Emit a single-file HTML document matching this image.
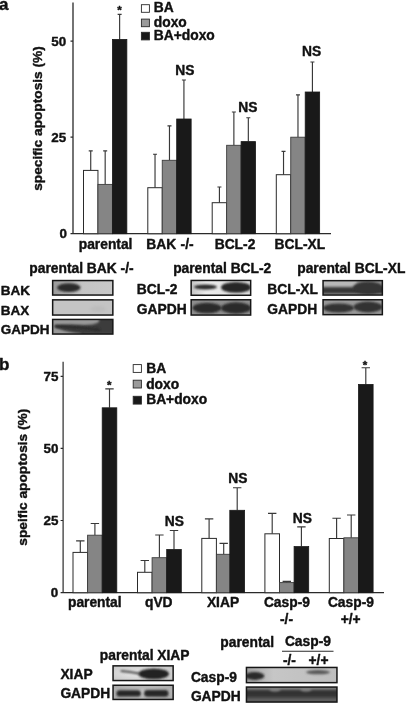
<!DOCTYPE html><html><head><meta charset="utf-8"><title>figure</title>
<style>html,body{margin:0;padding:0;background:#fff}svg{display:block}text{font-family:"Liberation Sans",Arial,sans-serif;font-weight:bold;fill:#111;stroke:#111;stroke-width:0.4px;stroke-linejoin:round}</style></head><body>
<svg width="406" height="704" viewBox="0 0 406 704">
<defs><filter id="b1" x="-30%" y="-80%" width="160%" height="260%"><feGaussianBlur stdDeviation="1.1"/></filter><filter id="b2" x="-30%" y="-80%" width="160%" height="260%"><feGaussianBlur stdDeviation="1.8"/></filter><filter id="b05" x="-30%" y="-80%" width="160%" height="260%"><feGaussianBlur stdDeviation="0.6"/></filter><filter id="b08" x="-30%" y="-80%" width="160%" height="260%"><feGaussianBlur stdDeviation="0.85"/></filter></defs>
<rect width="406" height="704" fill="#fff"/>
<text x="-0.9" y="9.9" font-size="17" text-anchor="start" >a</text>
<path d="M73.0 2.5V233.7M70.5 233.7H331M70.5 41.2H73.0M70.5 137.2H73.0" stroke="#2a2a2a" stroke-width="1.3" fill="none"/>
<text x="66.2" y="45.9" font-size="13.4" text-anchor="end" >50</text>
<text x="66.2" y="142.0" font-size="13.4" text-anchor="end" >25</text>
<text x="67.0" y="238.3" font-size="13.4" text-anchor="end" >0</text>
<text x="0" y="0" font-size="13.7" text-anchor="middle" transform="translate(42.1 118.5) rotate(-90)">specific apoptosis (%)</text>
<rect x="141.4" y="4.7" width="8.0" height="7.6" fill="#fff" stroke="#2a2a2a" stroke-width="0.9"/>
<rect x="141.4" y="19.1" width="8.0" height="7.6" fill="#9a9a9a" stroke="#2a2a2a" stroke-width="0.9"/>
<rect x="141.4" y="32.3" width="8.0" height="7.6" fill="#191919" stroke="#2a2a2a" stroke-width="0.9"/>
<text x="153.8" y="12.0" font-size="13.8" text-anchor="start" >BA</text>
<text x="153.8" y="27.3" font-size="13.8" text-anchor="start" >doxo</text>
<text x="153.8" y="39.9" font-size="13.8" text-anchor="start" >BA+doxo</text>
<path d="M90.725 170.4V150.8M88.725 150.8H92.725" stroke="#383838" stroke-width="1.15" fill="none"/>
<path d="M105.175 184.4V150.8M103.175 150.8H107.175" stroke="#383838" stroke-width="1.15" fill="none"/>
<path d="M119.625 39.4V14.3M117.625 14.3H121.625" stroke="#383838" stroke-width="1.15" fill="none"/>
<rect x="83.5" y="170.4" width="14.45" height="63.30" fill="#fff" stroke="#2a2a2a" stroke-width="1"/>
<rect x="97.95" y="184.4" width="14.45" height="49.30" fill="#858585" stroke="#3c3c3c" stroke-width="0.9"/>
<rect x="112.4" y="39.4" width="14.45" height="194.30" fill="#191919" stroke="#191919" stroke-width="0.8"/>
<path d="M155.025 187.7V154.2M153.025 154.2H157.025" stroke="#383838" stroke-width="1.15" fill="none"/>
<path d="M169.475 160.3V125.9M167.475 125.9H171.475" stroke="#383838" stroke-width="1.15" fill="none"/>
<path d="M183.925 119V80M181.925 80H185.925" stroke="#383838" stroke-width="1.15" fill="none"/>
<rect x="147.8" y="187.7" width="14.45" height="46.00" fill="#fff" stroke="#2a2a2a" stroke-width="1"/>
<rect x="162.25" y="160.3" width="14.45" height="73.40" fill="#858585" stroke="#3c3c3c" stroke-width="0.9"/>
<rect x="176.7" y="119" width="14.45" height="114.70" fill="#191919" stroke="#191919" stroke-width="0.8"/>
<path d="M219.42499999999998 202.7V187M217.42499999999998 187H221.42499999999998" stroke="#383838" stroke-width="1.15" fill="none"/>
<path d="M233.87499999999997 145.3V112M231.87499999999997 112H235.87499999999997" stroke="#383838" stroke-width="1.15" fill="none"/>
<path d="M248.325 141.6V117.7M246.325 117.7H250.325" stroke="#383838" stroke-width="1.15" fill="none"/>
<rect x="212.2" y="202.7" width="14.45" height="31.00" fill="#fff" stroke="#2a2a2a" stroke-width="1"/>
<rect x="226.65" y="145.3" width="14.45" height="88.40" fill="#858585" stroke="#3c3c3c" stroke-width="0.9"/>
<rect x="241.1" y="141.6" width="14.45" height="92.10" fill="#191919" stroke="#191919" stroke-width="0.8"/>
<path d="M283.52500000000003 174.7V151.3M281.52500000000003 151.3H285.52500000000003" stroke="#383838" stroke-width="1.15" fill="none"/>
<path d="M297.975 137.2V94.8M295.975 94.8H299.975" stroke="#383838" stroke-width="1.15" fill="none"/>
<path d="M312.425 92V62M310.425 62H314.425" stroke="#383838" stroke-width="1.15" fill="none"/>
<rect x="276.3" y="174.7" width="14.45" height="59.00" fill="#fff" stroke="#2a2a2a" stroke-width="1"/>
<rect x="290.75" y="137.2" width="14.45" height="96.50" fill="#858585" stroke="#3c3c3c" stroke-width="0.9"/>
<rect x="305.2" y="92" width="14.45" height="141.70" fill="#191919" stroke="#191919" stroke-width="0.8"/>
<text x="119.6" y="14.4" font-size="11.5" text-anchor="middle" stroke-width="0.1">*</text>
<text x="184.8" y="74.7" font-size="13.8" text-anchor="middle" >NS</text>
<text x="247.9" y="112.3" font-size="13.8" text-anchor="middle" >NS</text>
<text x="311.7" y="56" font-size="13.8" text-anchor="middle" >NS</text>
<text x="105.6" y="249.3" font-size="13.8" text-anchor="middle" >parental</text>
<text x="170.0" y="249.0" font-size="13.8" text-anchor="middle" >BAK <tspan dx="0.5">-/-</tspan></text>
<text x="235" y="248.8" font-size="13.8" text-anchor="middle" >BCL-2</text>
<text x="299.9" y="248.8" font-size="13.8" text-anchor="middle" >BCL-XL</text>
<text x="81.5" y="272.8" font-size="13.8" text-anchor="middle" >parental BAK -/-</text>
<text x="222.2" y="272.9" font-size="13.8" text-anchor="middle" >parental BCL-2</text>
<text x="351.3" y="272.9" font-size="13.8" text-anchor="middle" >parental BCL-XL</text>
<text x="0.8" y="295" font-size="13.5" text-anchor="start" >BAK</text>
<text x="0.8" y="314.6" font-size="13.5" text-anchor="start" >BAX</text>
<text x="0.8" y="333.7" font-size="13.5" text-anchor="start" >GAPDH</text>
<text x="136.8" y="293.7" font-size="13.8" text-anchor="start" >BCL-2</text>
<text x="136.8" y="313.7" font-size="13.8" text-anchor="start" >GAPDH</text>
<text x="267.3" y="294.3" font-size="13.8" text-anchor="start" >BCL-XL</text>
<text x="267.3" y="314.4" font-size="13.8" text-anchor="start" >GAPDH</text>
<linearGradient id="gA1" x1="0" x2="1" y1="0" y2="0"><stop offset="0" stop-color="#9a9a9a"/><stop offset="0.5" stop-color="#c4c4c4"/><stop offset="1" stop-color="#c8c8c8"/></linearGradient>
<clipPath id="cA1"><rect x="52.65" y="280.55" width="60.20" height="14.50"/></clipPath>
<rect x="52.65" y="280.55" width="60.20" height="14.50" fill="url(#gA1)"/>
<g clip-path="url(#cA1)"><ellipse cx="68.8" cy="287.6" rx="11.8" ry="4.3" fill="#2c2c2c" filter="url(#b1)"/></g>
<rect x="52.65" y="280.55" width="60.20" height="14.50" fill="none" stroke="#161616" stroke-width="1.5"/>
<clipPath id="cA2"><rect x="52.65" y="299.85" width="60.20" height="15.20"/></clipPath>
<rect x="52.65" y="299.85" width="60.20" height="15.20" fill="#c4c4c4"/>
<g clip-path="url(#cA2)"><ellipse cx="98" cy="309" rx="8" ry="3" fill="#bcbcbc" filter="url(#b2)"/></g>
<rect x="52.65" y="299.85" width="60.20" height="15.20" fill="none" stroke="#161616" stroke-width="1.5"/>
<clipPath id="cA3"><rect x="52.65" y="319.45" width="60.20" height="14.60"/></clipPath>
<rect x="52.65" y="319.45" width="60.20" height="14.60" fill="#3c3c3c"/>
<g clip-path="url(#cA3)"><path d="M50 317H100L98.5 322.4Q93 325 84.2 324.9Q70 324 56 325L54 326.3L56 327.8Q60 329.4 64.5 330.8Q72 332.6 81 333.7L84 337H50Z" fill="#989898" filter="url(#b08)"/><path d="M55 326.3Q75 327 100 330" stroke="#2c2c2c" stroke-width="2.4" fill="none" filter="url(#b1)"/><rect x="84" y="333.4" width="30" height="2" fill="#565656" filter="url(#b08)"/></g>
<rect x="52.65" y="319.45" width="60.20" height="14.60" fill="none" stroke="#161616" stroke-width="1.5"/>
<linearGradient id="gB1" x1="0" x2="1" y1="0" y2="0"><stop offset="0" stop-color="#c4c4c4"/><stop offset="0.25" stop-color="#ececec"/><stop offset="1" stop-color="#dcdcdc"/></linearGradient>
<clipPath id="cB1"><rect x="191.15" y="280.45" width="59.50" height="14.80"/></clipPath>
<rect x="191.15" y="280.45" width="59.50" height="14.80" fill="url(#gB1)"/>
<g clip-path="url(#cB1)"><ellipse cx="205.5" cy="286.9" rx="11.5" ry="2.5" fill="#2a2a2a" filter="url(#b08)"/><ellipse cx="236" cy="287.4" rx="15" ry="5.4" fill="#262626" filter="url(#b08)"/></g>
<rect x="191.15" y="280.45" width="59.50" height="14.80" fill="none" stroke="#161616" stroke-width="1.5"/>
<clipPath id="cB2"><rect x="191.15" y="299.75" width="59.50" height="15.30"/></clipPath>
<rect x="191.15" y="299.75" width="59.50" height="15.30" fill="#8e8e8e"/>
<g clip-path="url(#cB2)"><ellipse cx="207" cy="308" rx="14.5" ry="5.2" fill="#2a2a2a" filter="url(#b1)"/><ellipse cx="236" cy="308" rx="15" ry="5.8" fill="#2a2a2a" filter="url(#b1)"/></g>
<rect x="191.15" y="299.75" width="59.50" height="15.30" fill="none" stroke="#161616" stroke-width="1.5"/>
<clipPath id="cC1"><rect x="323.05" y="280.65" width="59.30" height="14.40"/></clipPath>
<rect x="323.05" y="280.65" width="59.30" height="14.40" fill="#949494"/>
<g clip-path="url(#cC1)"><rect x="320" y="279" width="37" height="7.6" fill="#b8b8b8" filter="url(#b08)"/><rect x="318" y="287.4" width="70" height="6.0" fill="#363636" filter="url(#b08)"/><ellipse cx="368" cy="287.8" rx="15" ry="6.4" fill="#343434" filter="url(#b1)"/></g>
<rect x="323.05" y="280.65" width="59.30" height="14.40" fill="none" stroke="#161616" stroke-width="1.5"/>
<clipPath id="cC2"><rect x="323.05" y="299.75" width="59.30" height="14.90"/></clipPath>
<rect x="323.05" y="299.75" width="59.30" height="14.90" fill="#989898"/>
<g clip-path="url(#cC2)"><ellipse cx="338.5" cy="308" rx="15.5" ry="4.6" fill="#303030" filter="url(#b1)"/><ellipse cx="368" cy="307" rx="14.5" ry="5.4" fill="#303030" filter="url(#b1)"/></g>
<rect x="323.05" y="299.75" width="59.30" height="14.90" fill="none" stroke="#161616" stroke-width="1.5"/>
<text x="-0.9" y="369.5" font-size="17" text-anchor="start" >b</text>
<path d="M63.1 361.7V592.7M60.6 592.7H384M60.6 376.3H63.1M60.6 448.4H63.1M60.6 520.5H63.1" stroke="#2a2a2a" stroke-width="1.2" fill="none"/>
<text x="58.5" y="381.1" font-size="13.4" text-anchor="end" >75</text>
<text x="58.5" y="453.2" font-size="13.4" text-anchor="end" >50</text>
<text x="58.5" y="525.3" font-size="13.4" text-anchor="end" >25</text>
<text x="58.2" y="597" font-size="13.4" text-anchor="end" >0</text>
<text x="0" y="0" font-size="13.7" text-anchor="middle" transform="translate(26.9 477.2) rotate(-90)">speific apoptosis (%)</text>
<rect x="133.2" y="364.6" width="8.2" height="7.8" fill="#fff" stroke="#2a2a2a" stroke-width="0.9"/>
<rect x="133.2" y="380.2" width="8.2" height="7.8" fill="#9a9a9a" stroke="#2a2a2a" stroke-width="0.9"/>
<rect x="133.2" y="396.3" width="8.2" height="7.8" fill="#191919" stroke="#2a2a2a" stroke-width="0.9"/>
<text x="146.2" y="372.8" font-size="13.8" text-anchor="start" >BA</text>
<text x="146.2" y="389.2" font-size="13.8" text-anchor="start" >doxo</text>
<text x="146.2" y="404.2" font-size="13.8" text-anchor="start" >BA+doxo</text>
<path d="M80.3 552.4V540.8M76.1 540.8H84.5" stroke="#383838" stroke-width="1.15" fill="none"/>
<path d="M94.89999999999999 535.2V523.5M90.69999999999999 523.5H99.1" stroke="#383838" stroke-width="1.15" fill="none"/>
<path d="M109.5 407.8V388.8M105.3 388.8H113.7" stroke="#383838" stroke-width="1.15" fill="none"/>
<rect x="73.0" y="552.4" width="14.60" height="40.30" fill="#fff" stroke="#2a2a2a" stroke-width="1"/>
<rect x="87.6" y="535.2" width="14.60" height="57.50" fill="#858585" stroke="#3c3c3c" stroke-width="0.9"/>
<rect x="102.2" y="407.8" width="14.60" height="184.90" fill="#191919" stroke="#191919" stroke-width="0.8"/>
<path d="M144.8 572.3V560.5M140.60000000000002 560.5H149.0" stroke="#383838" stroke-width="1.15" fill="none"/>
<path d="M159.4 557.7V535M155.20000000000002 535H163.6" stroke="#383838" stroke-width="1.15" fill="none"/>
<path d="M174.0 549.5V530.5M169.8 530.5H178.2" stroke="#383838" stroke-width="1.15" fill="none"/>
<rect x="137.5" y="572.3" width="14.60" height="20.40" fill="#fff" stroke="#2a2a2a" stroke-width="1"/>
<rect x="152.1" y="557.7" width="14.60" height="35.00" fill="#858585" stroke="#3c3c3c" stroke-width="0.9"/>
<rect x="166.7" y="549.5" width="14.60" height="43.20" fill="#191919" stroke="#191919" stroke-width="0.8"/>
<path d="M209.10000000000002 538.4V518.8M204.90000000000003 518.8H213.3" stroke="#383838" stroke-width="1.15" fill="none"/>
<path d="M223.70000000000002 554.3V543.3M219.50000000000003 543.3H227.9" stroke="#383838" stroke-width="1.15" fill="none"/>
<path d="M237.20000000000002 510.3V487.7M233.00000000000003 487.7H241.4" stroke="#383838" stroke-width="1.15" fill="none"/>
<rect x="201.8" y="538.4" width="14.60" height="54.30" fill="#fff" stroke="#2a2a2a" stroke-width="1"/>
<rect x="216.4" y="554.3" width="14.60" height="38.40" fill="#858585" stroke="#3c3c3c" stroke-width="0.9"/>
<rect x="229.8" y="510.3" width="14.80" height="82.40" fill="#191919" stroke="#191919" stroke-width="0.8"/>
<path d="M272.2 533.8V513.4M268.0 513.4H276.4" stroke="#383838" stroke-width="1.15" fill="none"/>
<path d="M286.8 582.6V581.4M282.6 581.4H291.0" stroke="#383838" stroke-width="1.15" fill="none"/>
<path d="M301.4 546.6V526.8M297.2 526.8H305.59999999999997" stroke="#383838" stroke-width="1.15" fill="none"/>
<rect x="264.9" y="533.8" width="14.60" height="58.90" fill="#fff" stroke="#2a2a2a" stroke-width="1"/>
<rect x="279.5" y="582.6" width="14.60" height="10.10" fill="#858585" stroke="#3c3c3c" stroke-width="0.9"/>
<rect x="294.1" y="546.6" width="14.60" height="46.10" fill="#191919" stroke="#191919" stroke-width="0.8"/>
<path d="M336.6 538.5V518.2M332.40000000000003 518.2H340.8" stroke="#383838" stroke-width="1.15" fill="none"/>
<path d="M351.20000000000005 537.8V515M347.00000000000006 515H355.40000000000003" stroke="#383838" stroke-width="1.15" fill="none"/>
<path d="M365.8 384.4V367.7M361.6 367.7H370.0" stroke="#383838" stroke-width="1.15" fill="none"/>
<rect x="329.3" y="538.5" width="14.60" height="54.20" fill="#fff" stroke="#2a2a2a" stroke-width="1"/>
<rect x="343.9" y="537.8" width="14.60" height="54.90" fill="#858585" stroke="#3c3c3c" stroke-width="0.9"/>
<rect x="358.5" y="384.4" width="14.60" height="208.30" fill="#191919" stroke="#191919" stroke-width="0.8"/>
<text x="109.3" y="389.0" font-size="11.5" text-anchor="middle" stroke-width="0.1">*</text>
<text x="364.9" y="368.9" font-size="11.5" text-anchor="middle" stroke-width="0.1">*</text>
<text x="174.3" y="526.4" font-size="13.8" text-anchor="middle" >NS</text>
<text x="237.9" y="483.4" font-size="13.8" text-anchor="middle" >NS</text>
<text x="302.4" y="522.7" font-size="13.8" text-anchor="middle" >NS</text>
<text x="94.8" y="607.3" font-size="13.8" text-anchor="middle" >parental</text>
<text x="158.8" y="606.9" font-size="13.8" text-anchor="middle" >qVD</text>
<text x="223" y="606.9" font-size="13.8" text-anchor="middle" >XIAP</text>
<text x="286.9" y="606.7" font-size="13.8" text-anchor="middle" >Casp-9</text>
<text x="286.5" y="624.0" font-size="13.8" text-anchor="middle" >-/-</text>
<text x="350.9" y="606.7" font-size="13.8" text-anchor="middle" >Casp-9</text>
<text x="350.7" y="624.2" font-size="13.8" text-anchor="middle" >+/+</text>
<text x="144.7" y="660" font-size="13.8" text-anchor="middle" >parental XIAP</text>
<text x="60.4" y="679.0" font-size="13.8" text-anchor="start" >XIAP</text>
<text x="60.4" y="697.7" font-size="13.8" text-anchor="start" >GAPDH</text>
<text x="247.2" y="646.6" font-size="13.8" text-anchor="middle" >parental</text>
<text x="307.9" y="646" font-size="13.8" text-anchor="middle" >Casp-9</text>
<path d="M282 651.2H333.5" stroke="#2a2a2a" stroke-width="1.1"/>
<text x="289.4" y="665" font-size="13.8" text-anchor="middle" >-/-</text>
<text x="318.5" y="665" font-size="13.8" text-anchor="middle" >+/+</text>
<text x="190.9" y="681.5" font-size="13.8" text-anchor="start" >Casp-9</text>
<text x="190.9" y="701.3" font-size="13.8" text-anchor="start" >GAPDH</text>
<radialGradient id="gD1" cx="0.45" cy="0.5" r="0.7"><stop offset="0" stop-color="#ececec"/><stop offset="1" stop-color="#c4c4c4"/></radialGradient>
<clipPath id="cD1"><rect x="113.05" y="665.85" width="60.10" height="14.70"/></clipPath>
<rect x="113.05" y="665.85" width="60.10" height="14.70" fill="url(#gD1)"/>
<g clip-path="url(#cD1)"><path d="M121.5 671Q130 671.8 139 673.6" stroke="#4a4a4a" stroke-width="2" stroke-linecap="round" fill="none" filter="url(#b08)"/><ellipse cx="153.7" cy="673.9" rx="15.3" ry="5.4" fill="#242424" filter="url(#b08)"/></g>
<rect x="113.05" y="665.85" width="60.10" height="14.70" fill="none" stroke="#161616" stroke-width="1.5"/>
<radialGradient id="gD2" cx="0.5" cy="0.5" r="0.7"><stop offset="0" stop-color="#c8c8c8"/><stop offset="1" stop-color="#a6a6a6"/></radialGradient>
<clipPath id="cD2"><rect x="113.05" y="685.25" width="60.10" height="14.20"/></clipPath>
<rect x="113.05" y="685.25" width="60.10" height="14.20" fill="url(#gD2)"/>
<g clip-path="url(#cD2)"><rect x="116.5" y="690.2" width="24.4" height="6.4" rx="3.2" fill="#262626" filter="url(#b08)"/><rect x="144.1" y="690.1" width="24.4" height="6.6" rx="3.3" fill="#262626" filter="url(#b08)"/></g>
<rect x="113.05" y="685.25" width="60.10" height="14.20" fill="none" stroke="#161616" stroke-width="1.5"/>
<linearGradient id="gE1" x1="0" x2="1" y1="0" y2="0"><stop offset="0" stop-color="#a4a4a4"/><stop offset="0.3" stop-color="#c6c6c6"/><stop offset="1" stop-color="#bebebe"/></linearGradient>
<clipPath id="cE1"><rect x="246.45" y="667.45" width="90.50" height="15.20"/></clipPath>
<rect x="246.45" y="667.45" width="90.50" height="15.20" fill="url(#gE1)"/>
<g clip-path="url(#cE1)"><ellipse cx="254.8" cy="676" rx="9.6" ry="3.9" fill="#2a2a2a" filter="url(#b1)"/><ellipse cx="318" cy="672.2" rx="12" ry="2.1" fill="#585858" filter="url(#b1)"/></g>
<rect x="246.45" y="667.45" width="90.50" height="15.20" fill="none" stroke="#161616" stroke-width="1.5"/>
<clipPath id="cE2"><rect x="246.45" y="687.05" width="90.50" height="15.00"/></clipPath>
<rect x="246.45" y="687.05" width="90.50" height="15.00" fill="#4c4c4c"/>
<g clip-path="url(#cE2)"><rect x="240" y="686" width="100" height="3.4" fill="#808080" filter="url(#b08)"/><rect x="240" y="691" width="100" height="5.5" fill="#333" filter="url(#b1)"/><ellipse cx="275" cy="689.2" rx="5.5" ry="2.4" fill="#7e7e7e" filter="url(#b08)"/><ellipse cx="306" cy="689.2" rx="5.5" ry="2.4" fill="#7e7e7e" filter="url(#b08)"/><rect x="240" y="698.5" width="100" height="3" fill="#5c5c5c" filter="url(#b05)"/></g>
<rect x="246.45" y="687.05" width="90.50" height="15.00" fill="none" stroke="#161616" stroke-width="1.5"/>
</svg></body></html>
